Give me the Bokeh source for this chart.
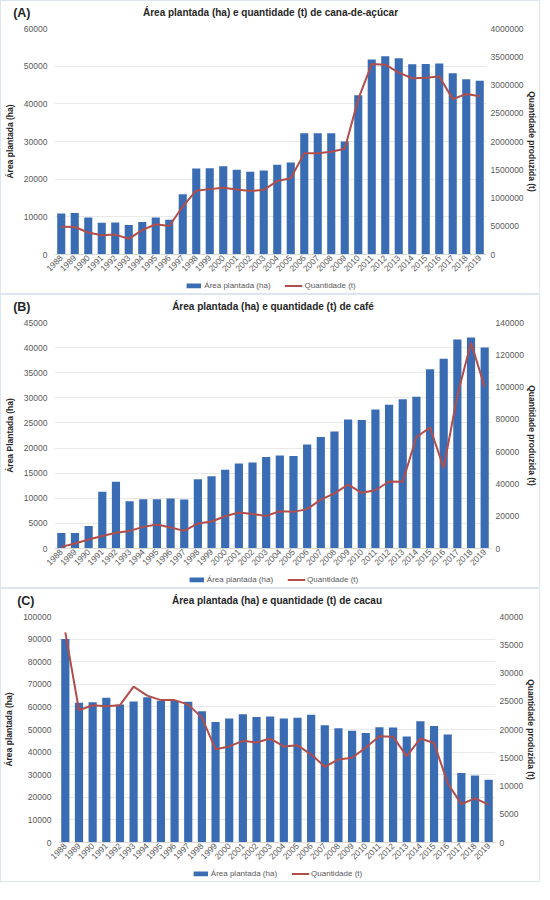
"""Área plantada e quantidade produzida: cana-de-açúcar, café, cacau."""
from math import pi

from bokeh.embed import file_html
from bokeh.layouts import column
from bokeh.models import (
    ColumnDataSource,
    FactorRange,
    FixedTicker,
    Label,
    Legend,
    LegendItem,
    LinearAxis,
    NumeralTickFormatter,
    Range1d,
)
from bokeh.plotting import figure
from bokeh.resources import INLINE

years = [str(y) for y in range(1988, 2020)]

# (A) cana-de-açúcar
cana_area = [10900, 11000, 9800, 8400, 8500, 7800, 8600, 9800, 9200, 16000,
             22800, 22900, 23400, 22500, 22000, 22300, 23800, 24400, 32200, 32200,
             32200, 30000, 42300, 51800, 52600, 52100, 50500, 50600, 50700, 48100,
             46500, 46100]
cana_qtd = [490000, 487000, 390000, 340000, 352000, 278000, 430000, 535000, 505000, 850000,
            1130000, 1157000, 1180000, 1151000, 1122000, 1145000, 1300000, 1350000, 1790000, 1790000,
            1820000, 1870000, 2750000, 3370000, 3360000, 3220000, 3120000, 3130000, 3150000, 2750000,
            2840000, 2800000]

# (B) café
cafe_area = [3100, 3100, 4500, 11300, 13300, 9400, 9800, 9800, 9950, 9750,
             13800, 14400, 15700, 16900, 17100, 18200, 18500, 18400, 20700, 22200,
             23300, 25700, 25600, 27700, 28600, 29700, 30200, 35700, 37800, 41600,
             42000, 40000]
cafe_qtd = [1000, 3100, 5600, 7700, 9700, 10900, 13400, 14900, 13000, 10900,
            15500, 16700, 20000, 22300, 21300, 20200, 23100, 22700, 24400, 30300,
            34100, 39600, 34500, 36100, 41500, 41300, 69100, 74900, 49900, 95000,
            127500, 100100]

# (C) cacau
cacau_area = [90000, 61800, 62100, 64000, 61100, 62400, 64300, 62700, 62600, 62300,
              58100, 53300, 54900, 56700, 55500, 55800, 54900, 55200, 56500, 51900,
              50600, 49400, 48400, 51000, 50900, 46900, 53700, 51500, 47800, 30800,
              29700, 27800]
cacau_qtd = [37200, 23400, 24300, 24100, 24300, 27600, 26000, 25200, 25200, 24400,
             22100, 16500, 17000, 18000, 17700, 18400, 17000, 17200, 15600, 13400,
             14700, 15000, 16800, 18800, 18700, 15300, 18400, 17600, 10500, 6800,
             7800, 6700]

FONT = "Liberation Sans"
BAR_COLOR = "#3a6cb4"
LINE_COLOR = "#b14e4b"
TEXT_DARK = "#262626"
TEXT_GREY = "#595959"
WIDTH = 538


def _header(tag, title):
    # the tag sits left of the frame as a y tick label, the title is centred in the frame
    h = figure(width=WIDTH, height=22, output_backend="svg", toolbar_location=None,
               x_axis_location=None, title_location=None, min_border=0,
               x_range=Range1d(0, 1), y_range=Range1d(0, 1))
    h.outline_line_color = None
    h.grid.visible = False

    yax = h.yaxis[0]
    yax.ticker = FixedTicker(ticks=[0.5])
    yax.major_label_overrides = {0.5: tag}
    yax.axis_line_color = None
    yax.major_tick_line_color = None
    yax.minor_tick_line_color = None
    yax.major_tick_out = 0
    yax.minor_tick_out = 0
    yax.major_label_standoff = 24
    yax.major_label_text_font = FONT
    yax.major_label_text_font_size = "12.5px"
    yax.major_label_text_font_style = "bold"
    yax.major_label_text_color = TEXT_DARK

    h.add_layout(Label(x=0.5, y=0.5, text=title, text_align="center", text_baseline="middle",
                       text_font=FONT, text_font_size="10px", text_font_style="bold",
                       text_color=TEXT_DARK))
    return h


def _footer():
    # legend strip: the proxies sit far outside the frame, only their icons show
    f = figure(width=WIDTH, height=16, output_backend="svg", toolbar_location=None,
               x_axis_location=None, y_axis_location=None, title_location=None, min_border=0,
               x_range=Range1d(0, 1), y_range=Range1d(0, 1))
    f.outline_line_color = None
    f.grid.visible = False
    bars = f.vbar(x=[-10], bottom=[-10], top=[-9], width=0.5,
                  fill_color=BAR_COLOR, line_color=None)
    line = f.line(x=[-10, -9], y=[-10, -10], line_color=LINE_COLOR, line_width=2)
    legend = Legend(
        items=[LegendItem(label="Área plantada (ha)", renderers=[bars]),
               LegendItem(label="Quantidade (t)", renderers=[line])],
        orientation="horizontal",
        location="center",
        border_line_color=None,
        background_fill_alpha=0,
        label_text_font=FONT,
        label_text_font_size="8px",
        label_text_color=TEXT_GREY,
        glyph_width=18,
        glyph_height=6,
        label_standoff=2,
        spacing=14,
        padding=0,
        margin=0,
    )
    f.add_layout(legend, "center")
    return f


def _chart(source, left_label, area_max, area_step, qtd_max, qtd_step):
    p = figure(
        x_range=FactorRange(*years, range_padding=0),
        y_range=Range1d(0, area_max),
        width=WIDTH,
        height=254,
        output_backend="svg",
        toolbar_location=None,
        title_location=None,
        min_border_left=2,
        min_border_right=0,
        min_border_top=5,
        min_border_bottom=0,
    )
    p.outline_line_color = None
    p.extra_y_ranges = {"qtd": Range1d(0, qtd_max)}

    p.vbar(x="year", top="area", width=0.6, source=source,
           fill_color=BAR_COLOR, line_color=None)
    p.line(x="year", y="qtd", source=source, y_range_name="qtd",
           line_color=LINE_COLOR, line_width=2)

    # left axis
    ax = p.yaxis[0]
    ax.ticker = FixedTicker(ticks=list(range(0, area_max + 1, area_step)))
    ax.formatter = NumeralTickFormatter(format="0")
    ax.axis_label = left_label
    ax.major_label_standoff = 7
    ax.axis_label_standoff = 6

    # right axis
    rax = LinearAxis(y_range_name="qtd", axis_label="Quantidade produzida (t)")
    rax.ticker = FixedTicker(ticks=list(range(0, qtd_max + 1, qtd_step)))
    rax.formatter = NumeralTickFormatter(format="0")
    rax.major_label_standoff = 4
    rax.axis_label_standoff = 0
    p.add_layout(rax, "right")

    for a in (ax, rax):
        a.axis_line_color = None
        a.major_tick_line_color = None
        a.minor_tick_line_color = None
        a.major_tick_out = 0
        a.minor_tick_out = 0
        a.major_label_text_font = FONT
        a.major_label_text_font_size = "8.5px"
        a.major_label_text_color = TEXT_GREY
        a.axis_label_text_font = FONT
        a.axis_label_text_font_size = "8.5px"
        a.axis_label_text_font_style = "bold"
        a.axis_label_text_color = TEXT_DARK

    xax = p.xaxis[0]
    xax.major_label_orientation = pi / 4
    xax.axis_line_color = "#d9d9d9"
    xax.major_tick_line_color = None
    xax.major_tick_out = 0
    xax.major_label_standoff = 2
    xax.major_label_text_font = FONT
    xax.major_label_text_font_size = "8.5px"
    xax.major_label_text_color = TEXT_GREY

    p.xgrid.grid_line_color = None
    p.ygrid.grid_line_color = "#e8e8e8"
    return p


def _panel(tag, title, left_label, area, qtd, area_max, area_step, qtd_max, qtd_step):
    source = ColumnDataSource(dict(year=years, area=area, qtd=qtd))
    return column(
        _header(tag, title),
        _chart(source, left_label, area_max, area_step, qtd_max, qtd_step),
        _footer(),
        styles={"border": "1px solid #dde6ef"},
    )


pa = _panel("(A)", "Área plantada (ha) e quantidade (t) de cana-de-açúcar",
            "Área plantada (ha)", cana_area, cana_qtd, 60000, 10000, 4000000, 500000)
pb = _panel("(B)", "Área plantada (ha) e quantidade (t) de café",
            "Área Plantada (ha)", cafe_area, cafe_qtd, 45000, 5000, 140000, 20000)
pc = _panel("(C)", "Área plantada (ha) e quantidade (t) de cacau",
            "Área plantada (ha)", cacau_area, cacau_qtd, 100000, 10000, 40000, 5000)

layout = column(pa, pb, pc)
open("out.html", "w").write(file_html(layout, INLINE))
